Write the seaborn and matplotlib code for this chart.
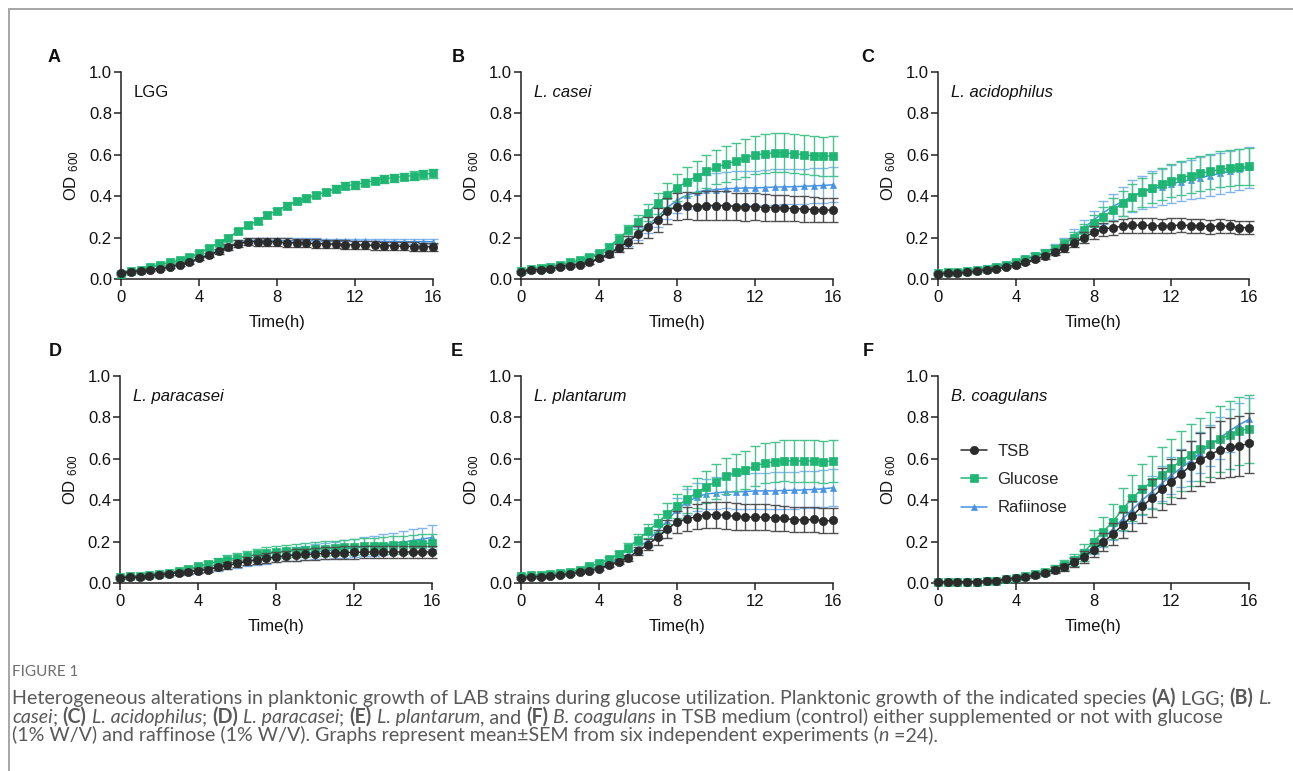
import matplotlib
matplotlib.use("Agg")
import matplotlib.pyplot as plt
from matplotlib.lines import Line2D
import numpy as np
import pandas as pd
import seaborn as sns

# time points (h)
time = [i * 0.5 for i in range(33)]

# ---- A: LGG
tsb_a = [0.03, 0.035, 0.04, 0.045, 0.05, 0.06, 0.07, 0.08, 0.10, 0.115, 0.135, 0.155, 0.17, 0.18, 0.18, 0.18, 0.178,
         0.176, 0.175, 0.173, 0.171, 0.17, 0.168, 0.166, 0.165, 0.163, 0.162, 0.161, 0.16, 0.158, 0.157, 0.156, 0.155]
glc_a = [0.025, 0.04, 0.045, 0.06, 0.07, 0.08, 0.09, 0.105, 0.125, 0.15, 0.175, 0.20, 0.23, 0.26, 0.28, 0.31, 0.33,
         0.355, 0.375, 0.39, 0.405, 0.42, 0.435, 0.45, 0.455, 0.465, 0.475, 0.485, 0.49, 0.495, 0.50, 0.505, 0.51]
raf_a = [0.03, 0.035, 0.04, 0.045, 0.05, 0.06, 0.07, 0.082, 0.10, 0.118, 0.138, 0.158, 0.175, 0.185, 0.187, 0.187, 0.186,
         0.185, 0.185, 0.184, 0.184, 0.183, 0.183, 0.182, 0.182, 0.182, 0.181, 0.181, 0.181, 0.18, 0.18, 0.18, 0.18]
tsb_a_sem = [0.004, 0.004, 0.005, 0.005, 0.005, 0.006, 0.006, 0.007, 0.008, 0.01, 0.012, 0.015, 0.017, 0.018, 0.019, 0.019,
             0.02, 0.02, 0.02, 0.02, 0.02, 0.02, 0.02, 0.02, 0.02, 0.02, 0.02, 0.02, 0.02, 0.02, 0.02, 0.02, 0.02]
glc_a_sem = [0.004, 0.004, 0.005, 0.005, 0.005, 0.006, 0.006, 0.007, 0.008, 0.009, 0.01, 0.011, 0.012, 0.013, 0.013, 0.014,
             0.014, 0.015, 0.015, 0.016, 0.016, 0.016, 0.017, 0.017, 0.018, 0.018, 0.018, 0.019, 0.019, 0.019, 0.02, 0.02, 0.02]
raf_a_sem = [0.003, 0.003, 0.004, 0.004, 0.004, 0.005, 0.005, 0.006, 0.007, 0.008, 0.009, 0.01, 0.011, 0.012, 0.012, 0.012,
             0.012, 0.012, 0.012, 0.012, 0.012, 0.012, 0.012, 0.012, 0.012, 0.012, 0.012, 0.012, 0.012, 0.012, 0.012, 0.012, 0.012]

# ---- B: L. casei
tsb_b = [0.035, 0.045, 0.045, 0.05, 0.06, 0.065, 0.07, 0.08, 0.10, 0.12, 0.15, 0.18, 0.215, 0.25, 0.285, 0.33, 0.35,
         0.355, 0.35, 0.355, 0.355, 0.355, 0.35, 0.348, 0.35, 0.345, 0.345, 0.342, 0.34, 0.338, 0.335, 0.333, 0.333]
glc_b = [0.04, 0.05, 0.055, 0.06, 0.07, 0.08, 0.09, 0.105, 0.125, 0.155, 0.195, 0.235, 0.275, 0.32, 0.365, 0.405, 0.44,
         0.47, 0.495, 0.52, 0.54, 0.555, 0.57, 0.585, 0.60, 0.605, 0.61, 0.61, 0.605, 0.60, 0.595, 0.593, 0.595]
raf_b = [0.035, 0.045, 0.045, 0.05, 0.06, 0.065, 0.072, 0.082, 0.102, 0.122, 0.155, 0.185, 0.22, 0.26, 0.30, 0.345, 0.38,
         0.405, 0.42, 0.428, 0.432, 0.436, 0.438, 0.44, 0.44, 0.442, 0.444, 0.445, 0.446, 0.448, 0.45, 0.452, 0.455]
tsb_b_sem = [0.004, 0.005, 0.005, 0.005, 0.006, 0.006, 0.007, 0.008, 0.01, 0.012, 0.02, 0.03, 0.04, 0.05, 0.058, 0.062,
             0.065, 0.066, 0.067, 0.068, 0.068, 0.068, 0.067, 0.066, 0.065, 0.064, 0.063, 0.062, 0.062, 0.061, 0.06, 0.06, 0.06]
glc_b_sem = [0.005, 0.005, 0.006, 0.006, 0.007, 0.008, 0.009, 0.01, 0.012, 0.016, 0.022, 0.028, 0.035, 0.042, 0.05, 0.058,
             0.065, 0.07, 0.075, 0.08, 0.083, 0.086, 0.088, 0.09, 0.092, 0.094, 0.095, 0.095, 0.095, 0.094, 0.094, 0.094, 0.095]
raf_b_sem = [0.004, 0.005, 0.005, 0.005, 0.006, 0.006, 0.007, 0.008, 0.01, 0.012, 0.018, 0.025, 0.032, 0.04, 0.048, 0.055,
             0.06, 0.065, 0.07, 0.075, 0.078, 0.08, 0.082, 0.083, 0.084, 0.085, 0.085, 0.085, 0.085, 0.085, 0.085, 0.085, 0.085]

# ---- C: L. acidophilus
tsb_c = [0.025, 0.028, 0.028, 0.032, 0.038, 0.045, 0.05, 0.058, 0.068, 0.08, 0.095, 0.11, 0.13, 0.15, 0.175, 0.2, 0.225,
         0.24, 0.248, 0.255, 0.26, 0.26, 0.258, 0.256, 0.258, 0.26, 0.258, 0.258, 0.252, 0.256, 0.255, 0.248, 0.248]
glc_c = [0.03, 0.035, 0.035, 0.04, 0.045, 0.05, 0.06, 0.068, 0.08, 0.095, 0.11, 0.125, 0.145, 0.17, 0.20, 0.235, 0.27,
         0.30, 0.335, 0.365, 0.395, 0.42, 0.44, 0.46, 0.475, 0.49, 0.50, 0.51, 0.52, 0.53, 0.535, 0.54, 0.545]
raf_c = [0.03, 0.035, 0.038, 0.042, 0.048, 0.055, 0.063, 0.072, 0.083, 0.097, 0.112, 0.13, 0.15, 0.175, 0.21, 0.245, 0.285,
         0.32, 0.35, 0.375, 0.40, 0.42, 0.435, 0.445, 0.46, 0.47, 0.48, 0.49, 0.50, 0.51, 0.52, 0.53, 0.54]
tsb_c_sem = [0.004, 0.004, 0.005, 0.005, 0.005, 0.006, 0.006, 0.007, 0.008, 0.009, 0.01, 0.012, 0.015, 0.018, 0.022, 0.026,
             0.03, 0.032, 0.034, 0.035, 0.036, 0.036, 0.036, 0.035, 0.035, 0.034, 0.034, 0.034, 0.033, 0.033, 0.032, 0.032, 0.032]
glc_c_sem = [0.005, 0.005, 0.005, 0.006, 0.006, 0.007, 0.008, 0.009, 0.01, 0.012, 0.014, 0.016, 0.019, 0.022, 0.027, 0.033,
             0.04, 0.047, 0.054, 0.06, 0.066, 0.07, 0.074, 0.077, 0.08, 0.082, 0.084, 0.085, 0.086, 0.087, 0.088, 0.088, 0.09]
raf_c_sem = [0.005, 0.005, 0.005, 0.006, 0.006, 0.007, 0.008, 0.009, 0.01, 0.012, 0.014, 0.017, 0.02, 0.025, 0.031, 0.038,
             0.045, 0.055, 0.063, 0.07, 0.076, 0.08, 0.085, 0.088, 0.091, 0.093, 0.095, 0.097, 0.098, 0.1, 0.1, 0.1, 0.1]

# ---- D: L. paracasei
tsb_d = [0.025, 0.028, 0.03, 0.035, 0.04, 0.045, 0.05, 0.055, 0.06, 0.065, 0.075, 0.085, 0.095, 0.105, 0.112, 0.12, 0.125,
         0.13, 0.135, 0.138, 0.14, 0.143, 0.145, 0.147, 0.148, 0.149, 0.15, 0.15, 0.15, 0.15, 0.15, 0.15, 0.15]
glc_d = [0.03, 0.032, 0.035, 0.04, 0.045, 0.05, 0.058, 0.068, 0.08, 0.092, 0.103, 0.113, 0.122, 0.13, 0.138, 0.145, 0.15,
         0.154, 0.157, 0.16, 0.163, 0.166, 0.169, 0.172, 0.175, 0.177, 0.179, 0.181, 0.183, 0.185, 0.188, 0.19, 0.192]
raf_d = [0.03, 0.03, 0.032, 0.036, 0.04, 0.045, 0.05, 0.055, 0.06, 0.066, 0.075, 0.084, 0.094, 0.103, 0.112, 0.12, 0.128,
         0.134, 0.14, 0.145, 0.15, 0.155, 0.16, 0.165, 0.17, 0.175, 0.18, 0.185, 0.19, 0.197, 0.205, 0.212, 0.22]
tsb_d_sem = [0.004, 0.005, 0.005, 0.006, 0.007, 0.008, 0.009, 0.01, 0.011, 0.012, 0.014, 0.016, 0.018, 0.02, 0.022, 0.024,
             0.025, 0.026, 0.027, 0.028, 0.028, 0.029, 0.029, 0.03, 0.03, 0.03, 0.03, 0.03, 0.03, 0.03, 0.03, 0.03, 0.03]
glc_d_sem = [0.005, 0.005, 0.006, 0.007, 0.008, 0.009, 0.01, 0.012, 0.014, 0.016, 0.018, 0.02, 0.022, 0.024, 0.026, 0.028,
             0.03, 0.031, 0.032, 0.033, 0.034, 0.035, 0.036, 0.037, 0.038, 0.039, 0.04, 0.041, 0.042, 0.043, 0.044, 0.045, 0.045]
raf_d_sem = [0.004, 0.005, 0.005, 0.006, 0.007, 0.008, 0.009, 0.01, 0.012, 0.014, 0.016, 0.018, 0.02, 0.022, 0.024, 0.026,
             0.028, 0.03, 0.032, 0.034, 0.036, 0.038, 0.04, 0.042, 0.044, 0.046, 0.048, 0.05, 0.052, 0.054, 0.055, 0.056, 0.058]

# ---- E: L. plantarum
tsb_e = [0.025, 0.03, 0.03, 0.033, 0.038, 0.044, 0.052, 0.06, 0.07, 0.087, 0.103, 0.122, 0.155, 0.185, 0.22, 0.26, 0.295,
         0.31, 0.32, 0.33, 0.33, 0.327, 0.322, 0.318, 0.318, 0.318, 0.315, 0.313, 0.305, 0.305, 0.307, 0.30, 0.302]
glc_e = [0.035, 0.04, 0.04, 0.045, 0.05, 0.055, 0.065, 0.08, 0.095, 0.115, 0.14, 0.17, 0.21, 0.25, 0.29, 0.335, 0.37,
         0.405, 0.435, 0.465, 0.49, 0.515, 0.535, 0.545, 0.565, 0.58, 0.585, 0.59, 0.59, 0.59, 0.59, 0.585, 0.59]
raf_e = [0.03, 0.035, 0.035, 0.04, 0.045, 0.05, 0.058, 0.065, 0.078, 0.095, 0.115, 0.14, 0.17, 0.205, 0.25, 0.30, 0.355,
         0.39, 0.415, 0.43, 0.435, 0.44, 0.44, 0.442, 0.445, 0.445, 0.445, 0.447, 0.448, 0.45, 0.452, 0.455, 0.46]
tsb_e_sem = [0.004, 0.004, 0.005, 0.005, 0.005, 0.006, 0.006, 0.007, 0.008, 0.01, 0.012, 0.015, 0.02, 0.027, 0.035, 0.045,
             0.052, 0.057, 0.06, 0.062, 0.063, 0.064, 0.064, 0.063, 0.063, 0.062, 0.062, 0.061, 0.061, 0.06, 0.06, 0.06, 0.06]
glc_e_sem = [0.005, 0.005, 0.005, 0.006, 0.006, 0.007, 0.008, 0.009, 0.01, 0.013, 0.017, 0.022, 0.028, 0.035, 0.042, 0.05,
             0.058, 0.065, 0.072, 0.078, 0.083, 0.087, 0.09, 0.093, 0.095, 0.097, 0.098, 0.099, 0.1, 0.1, 0.1, 0.1, 0.1]
raf_e_sem = [0.004, 0.005, 0.005, 0.005, 0.006, 0.006, 0.007, 0.008, 0.009, 0.011, 0.014, 0.018, 0.023, 0.03, 0.038, 0.047,
             0.055, 0.062, 0.068, 0.073, 0.077, 0.08, 0.083, 0.085, 0.087, 0.088, 0.089, 0.09, 0.09, 0.09, 0.09, 0.09, 0.09]

# ---- F: B. coagulans
tsb_f = [0.005, 0.005, 0.005, 0.006, 0.007, 0.009, 0.012, 0.018, 0.025, 0.03, 0.037, 0.05, 0.063, 0.077, 0.1, 0.127, 0.16,
         0.197, 0.237, 0.28, 0.325, 0.37, 0.41, 0.455, 0.49, 0.528, 0.566, 0.595, 0.62, 0.643, 0.655, 0.662, 0.675]
glc_f = [0.005, 0.005, 0.005, 0.006, 0.007, 0.009, 0.012, 0.018, 0.025, 0.033, 0.045, 0.055, 0.07, 0.087, 0.112, 0.147, 0.2,
         0.248, 0.297, 0.357, 0.41, 0.455, 0.487, 0.52, 0.555, 0.59, 0.62, 0.645, 0.67, 0.695, 0.715, 0.735, 0.745]
raf_f = [0.005, 0.005, 0.005, 0.006, 0.007, 0.009, 0.012, 0.018, 0.025, 0.03, 0.04, 0.052, 0.065, 0.08, 0.105, 0.135, 0.175,
         0.215, 0.26, 0.31, 0.355, 0.40, 0.44, 0.48, 0.52, 0.555, 0.59, 0.63, 0.665, 0.70, 0.735, 0.765, 0.79]
tsb_f_sem = [0.003, 0.003, 0.003, 0.003, 0.003, 0.003, 0.004, 0.004, 0.005, 0.006, 0.008, 0.01, 0.013, 0.017, 0.022, 0.028,
             0.035, 0.043, 0.052, 0.062, 0.072, 0.082, 0.092, 0.1, 0.108, 0.115, 0.122, 0.128, 0.133, 0.138, 0.141, 0.143, 0.145]
glc_f_sem = [0.003, 0.003, 0.003, 0.003, 0.003, 0.003, 0.004, 0.005, 0.006, 0.007, 0.009, 0.012, 0.016, 0.022, 0.03, 0.04,
             0.055, 0.07, 0.085, 0.1, 0.11, 0.12, 0.128, 0.135, 0.14, 0.145, 0.15, 0.153, 0.156, 0.16, 0.162, 0.164, 0.165]
raf_f_sem = [0.003, 0.003, 0.003, 0.003, 0.003, 0.003, 0.004, 0.004, 0.005, 0.006, 0.008, 0.01, 0.013, 0.017, 0.022, 0.028,
             0.035, 0.042, 0.05, 0.058, 0.065, 0.072, 0.078, 0.083, 0.088, 0.092, 0.095, 0.098, 0.1, 0.102, 0.104, 0.105, 0.105]

panel_letters = ["A", "B", "C", "D", "E", "F"]
strains = ["LGG", "L. casei", "L. acidophilus", "L. paracasei", "L. plantarum", "B. coagulans"]
media = ["TSB", "Glucose", "Rafiinose"]
x_ticks = [0, 4, 8, 12, 16]
y_ticks = [0.0, 0.2, 0.4, 0.6, 0.8, 1.0]

means = [(tsb_a, glc_a, raf_a), (tsb_b, glc_b, raf_b), (tsb_c, glc_c, raf_c),
         (tsb_d, glc_d, raf_d), (tsb_e, glc_e, raf_e), (tsb_f, glc_f, raf_f)]
sems = [(tsb_a_sem, glc_a_sem, raf_a_sem), (tsb_b_sem, glc_b_sem, raf_b_sem), (tsb_c_sem, glc_c_sem, raf_c_sem),
        (tsb_d_sem, glc_d_sem, raf_d_sem), (tsb_e_sem, glc_e_sem, raf_e_sem), (tsb_f_sem, glc_f_sem, raf_f_sem)]

# styles
line_col = {"TSB": "#2b2b2b", "Glucose": "#1fb673", "Rafiinose": "#4592e6"}
err_col = {"TSB": "#4f4f4f", "Glucose": "#47c48d", "Rafiinose": "#80b5ee"}
mark = {"TSB": "o", "Glucose": "s", "Rafiinose": "^"}
msize = {"TSB": 6.0, "Glucose": 5.2, "Rafiinose": 4.6}
zord = {"TSB": 3.4, "Glucose": 3.2, "Rafiinose": 3.0}

sns.set_style("ticks")
plt.rcParams["font.family"] = ["Liberation Sans", "DejaVu Sans"]
plt.rcParams["mathtext.default"] = "regular"

W, H = 1293, 771
fig = plt.figure(figsize=(W / 100, H / 100), dpi=100)

# axes boxes in pixels: left, top, right, bottom
boxes = [(121, 72, 433, 279), (521, 72, 833, 279), (938, 72, 1249, 279),
         (120, 376, 432, 583), (521, 376, 833, 583), (938, 376, 1249, 583)]
letter_pos = [(54, 58), (458, 58), (868, 58), (55, 352), (457, 352), (868, 352)]

for i, (l, t, r, b) in enumerate(boxes):
    ax = fig.add_axes([l / W, 1 - b / H, (r - l) / W, (b - t) / H])
    df = pd.concat([
        pd.DataFrame({"time": time, "od": means[i][k], "sem": sems[i][k], "medium": m})
        for k, m in enumerate(media)
    ])
    handles = {}
    for m in ["Rafiinose", "Glucose", "TSB"]:
        sub = df[df["medium"] == m]
        eb = ax.errorbar(sub["time"], sub["od"], yerr=sub["sem"], fmt="none", ecolor=err_col[m],
                         elinewidth=1.0, capsize=3.8, capthick=1.0, zorder=zord[m] - 0.1)
        for art in eb.lines[1] + eb.lines[2]:
            art.set_clip_on(False)
        sns.lineplot(data=sub, x="time", y="od", ax=ax, color=line_col[m], marker=mark[m],
                     markersize=msize[m], markeredgecolor=line_col[m], markeredgewidth=0.5,
                     linewidth=1.1, errorbar=None, label=m, zorder=zord[m], clip_on=False, legend=False)
        handles[m] = ax.lines[-1]

    ax.set_xlim(0, 16)
    ax.set_ylim(0, 1.0)
    ax.set_xticks(x_ticks)
    ax.set_yticks(y_ticks)
    ax.set_yticklabels([f"{v:.1f}" for v in y_ticks])
    ax.tick_params(axis="both", length=5, width=1.1, labelsize=12, color="#222222", labelcolor="#111111")
    ax.tick_params(axis="x", pad=3)
    ax.tick_params(axis="y", pad=1.5)
    for s in ["left", "bottom"]:
        ax.spines[s].set_linewidth(1.1)
        ax.spines[s].set_color("#222222")
    sns.despine(ax=ax)
    ax.set_xlabel("Time(h)", fontsize=12, labelpad=7, color="#111111")
    ax.set_ylabel("OD $_{600}$", fontsize=12, labelpad=6, color="#111111")

    style = "normal" if strains[i] == "LGG" else "italic"
    ax.text(13 / (r - l), 1 - 20 / (b - t), strains[i], transform=ax.transAxes, fontsize=12,
            fontstyle=style, va="center", ha="left", color="#111111")

    fig.text(letter_pos[i][0] / W, 1 - letter_pos[i][1] / H, panel_letters[i], fontsize=13,
             fontweight="bold", ha="center", va="center", color="#111111")

    if i == 5:
        ax.legend([handles[m] for m in media], media, frameon=False, loc="center left",
                  bbox_to_anchor=(0.025, 0.5), fontsize=12, handlelength=1.6, handletextpad=0.6,
                  labelspacing=0.8)

# frame lines around the figure
fig.add_artist(Line2D([9 / W, 1], [1 - 9 / H, 1 - 9 / H], color="#a6a6a6", lw=1.4, transform=fig.transFigure))
fig.add_artist(Line2D([9 / W, 9 / W], [0, 1 - 9 / H], color="#a6a6a6", lw=1.4, transform=fig.transFigure))

# caption
cap_font = ["Lato", "DejaVu Sans"]
renderer = fig.canvas.get_renderer()


def text_width(txt, size, weight, style):
    t = fig.text(0, 0, txt + "|", fontsize=size, fontweight=weight, fontstyle=style, family=cap_font)
    w1 = t.get_window_extent(renderer).width
    t.set_text("|")
    w2 = t.get_window_extent(renderer).width
    t.remove()
    return w1 - w2


def rich_line(x_px, y_px, parts, size, color):
    x = x_px
    for txt, weight, style in parts:
        fig.text(x / W, 1 - y_px / H, txt, fontsize=size, fontweight=weight, fontstyle=style,
                 family=cap_font, color=color, va="baseline", ha="left")
        x += text_width(txt, size, weight, style)


N, B, I = ("normal", "normal"), ("bold", "normal"), ("normal", "italic")
cap_lines = [
    [("Heterogeneous alterations in planktonic growth of LAB strains during glucose utilization. "
      "Planktonic growth of the indicated species ", *N), ("(A)", *B), (" LGG; ", *N), ("(B)", *B), (" ", *N),
     ("L.", *I)],
    [("casei", *I), ("; ", *N), ("(C)", *B), (" ", *N), ("L. acidophilus", *I), ("; ", *N), ("(D)", *B), (" ", *N),
     ("L. paracasei", *I), ("; ", *N), ("(E)", *B), (" ", *N), ("L. plantarum", *I), (", and ", *N), ("(F)", *B),
     (" ", *N), ("B. coagulans", *I),
     (" in TSB medium (control) either supplemented or not with glucose", *N)],
    [("(1% W/V) and raffinose (1% W/V). Graphs represent mean\u00b1SEM from six independent experiments (", *N),
     ("n", *I), (" =24).", *N)],
]

# fit the first caption line to the width it has in the figure
base = 10.0
w0 = sum(text_width(p[0], base, p[1], p[2]) for p in cap_lines[0])
cap_size = base * (1258 / w0)

fig.text(12 / W, 1 - 676 / H, "FIGURE 1", fontsize=cap_size * 0.78, family=cap_font, color="#6f6f6f",
         va="baseline", ha="left")
for line, y in zip(cap_lines, [704, 723, 741]):
    rich_line(12, y, line, cap_size, "#595959")

fig.savefig("out.png", dpi=100)
